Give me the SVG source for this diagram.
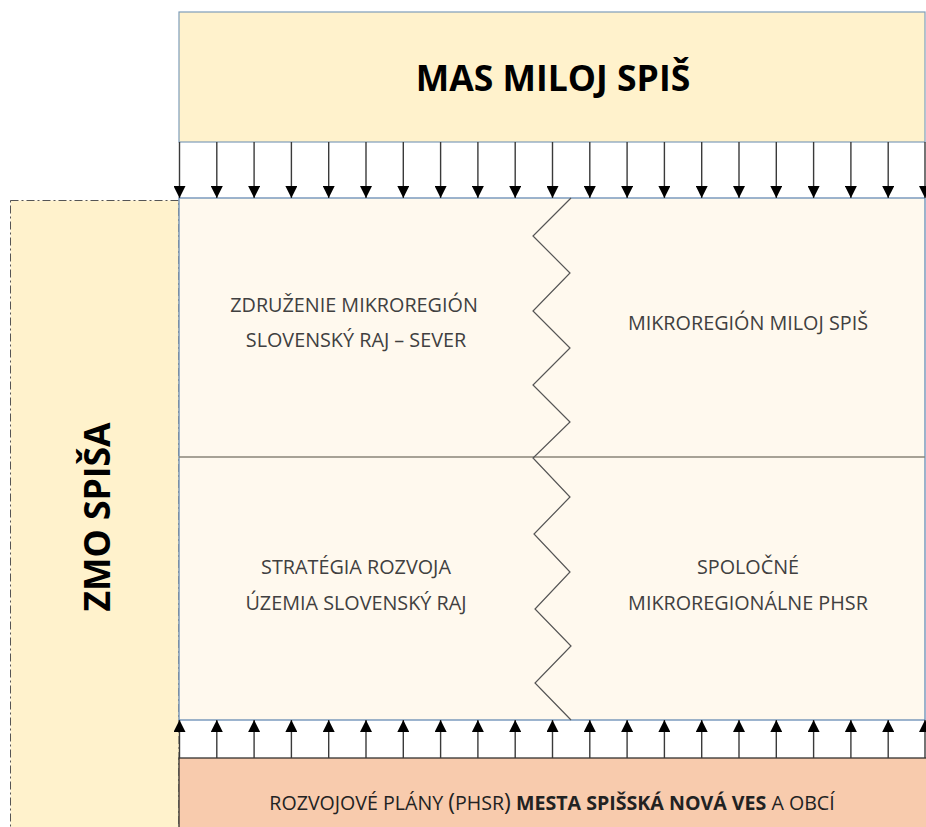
<svg xmlns="http://www.w3.org/2000/svg" width="926" height="827" viewBox="0 0 926 827">
<defs>
<marker id="ah" viewBox="0 0 10 10" refX="10" refY="5" markerWidth="12" markerHeight="12" markerUnits="userSpaceOnUse" orient="auto">
<path d="M0,0 L10,5 L0,10 Z" fill="#000"/>
</marker>
<style>
.lbl{font-family:"Open Sans","Liberation Sans",sans-serif;font-size:19.8px;fill:#404040;text-anchor:middle}
.ar{stroke:#3a3a3a;stroke-width:1.4;fill:none;marker-end:url(#ah)}
</style>
</defs>
<rect width="926" height="827" fill="#fff"/>
<g id="mas">
<rect x="179" y="12" width="746" height="130" fill="#FFF2CC" stroke="#7F9DB9" stroke-width="1.2"/>
<text x="553" y="91" font-family="'Open Sans','Liberation Sans',sans-serif" font-weight="bold" font-size="35.5" fill="#000" text-anchor="middle">MAS MILOJ SPIŠ</text>
</g>
<g id="zmo">
<rect x="10.5" y="200.5" width="168.5" height="630" fill="#FFF2CC" stroke="#555" stroke-width="1" stroke-dasharray="8,3,2,3"/>
<text transform="translate(110,517) rotate(-90)" font-family="'Open Sans','Liberation Sans',sans-serif" font-weight="bold" font-size="35.5" fill="#000" text-anchor="middle">ZMO SPIŠA</text>
</g>
<g id="main">
<rect x="179" y="198" width="746" height="522" fill="#FFF9EE" stroke="#5B82B0" stroke-width="1.2"/>
<line x1="179" y1="457" x2="925" y2="457" stroke="#8A8578" stroke-width="1.3"/>
<path d="M571,198 L533,236 L570,273 L533,311 L570,348 L533,385 L570,422 L533,458 L570,497 L534,534 L570,572 L535,609 L571,646 L535,683 L571,720" fill="none" stroke="#555" stroke-width="1.2"/>
</g>
<g id="n1"><text class="lbl" x="354" y="312">ZDRUŽENIE MIKROREGIÓN</text><text class="lbl" x="356" y="347">SLOVENSKÝ RAJ – SEVER</text></g>
<g id="n2"><text class="lbl" x="748" y="330">MIKROREGIÓN MILOJ SPIŠ</text></g>
<g id="n3"><text class="lbl" x="356" y="574">STRATÉGIA ROZVOJA</text><text class="lbl" x="356" y="610">ÚZEMIA SLOVENSKÝ RAJ</text></g>
<g id="n4"><text class="lbl" x="748" y="574">SPOLOČNÉ</text><text class="lbl" x="748" y="610">MIKROREGIONÁLNE PHSR</text></g>
<g id="bottom">
<rect x="179" y="758" width="760" height="80" fill="#F8CBAD" stroke="#222" stroke-width="1.2"/>
<text x="552" y="810" font-family="'Open Sans','Liberation Sans',sans-serif" font-size="19.6" fill="#222" text-anchor="middle">ROZVOJOVÉ PLÁNY <tspan font-size="23">(</tspan>PHSR<tspan font-size="23">)</tspan> <tspan font-weight="bold">MESTA SPIŠSKÁ NOVÁ VES</tspan> A OBCÍ</text>
</g>
<g id="connectors">
<line class="ar" x1="179.5" y1="142" x2="179.5" y2="198"/>
<line class="ar" x1="216.8" y1="142" x2="216.8" y2="198"/>
<line class="ar" x1="254.1" y1="142" x2="254.1" y2="198"/>
<line class="ar" x1="291.4" y1="142" x2="291.4" y2="198"/>
<line class="ar" x1="328.7" y1="142" x2="328.7" y2="198"/>
<line class="ar" x1="366" y1="142" x2="366" y2="198"/>
<line class="ar" x1="403.3" y1="142" x2="403.3" y2="198"/>
<line class="ar" x1="440.6" y1="142" x2="440.6" y2="198"/>
<line class="ar" x1="477.9" y1="142" x2="477.9" y2="198"/>
<line class="ar" x1="515.2" y1="142" x2="515.2" y2="198"/>
<line class="ar" x1="552.5" y1="142" x2="552.5" y2="198"/>
<line class="ar" x1="589.8" y1="142" x2="589.8" y2="198"/>
<line class="ar" x1="627.1" y1="142" x2="627.1" y2="198"/>
<line class="ar" x1="664.4" y1="142" x2="664.4" y2="198"/>
<line class="ar" x1="701.7" y1="142" x2="701.7" y2="198"/>
<line class="ar" x1="739" y1="142" x2="739" y2="198"/>
<line class="ar" x1="776.3" y1="142" x2="776.3" y2="198"/>
<line class="ar" x1="813.6" y1="142" x2="813.6" y2="198"/>
<line class="ar" x1="850.9" y1="142" x2="850.9" y2="198"/>
<line class="ar" x1="888.2" y1="142" x2="888.2" y2="198"/>
<line class="ar" x1="925" y1="142" x2="925" y2="198"/>
<line class="ar" x1="179.5" y1="758" x2="179.5" y2="720"/>
<line class="ar" x1="216.8" y1="758" x2="216.8" y2="720"/>
<line class="ar" x1="254.1" y1="758" x2="254.1" y2="720"/>
<line class="ar" x1="291.4" y1="758" x2="291.4" y2="720"/>
<line class="ar" x1="328.7" y1="758" x2="328.7" y2="720"/>
<line class="ar" x1="366" y1="758" x2="366" y2="720"/>
<line class="ar" x1="403.3" y1="758" x2="403.3" y2="720"/>
<line class="ar" x1="440.6" y1="758" x2="440.6" y2="720"/>
<line class="ar" x1="477.9" y1="758" x2="477.9" y2="720"/>
<line class="ar" x1="515.2" y1="758" x2="515.2" y2="720"/>
<line class="ar" x1="552.5" y1="758" x2="552.5" y2="720"/>
<line class="ar" x1="589.8" y1="758" x2="589.8" y2="720"/>
<line class="ar" x1="627.1" y1="758" x2="627.1" y2="720"/>
<line class="ar" x1="664.4" y1="758" x2="664.4" y2="720"/>
<line class="ar" x1="701.7" y1="758" x2="701.7" y2="720"/>
<line class="ar" x1="739" y1="758" x2="739" y2="720"/>
<line class="ar" x1="776.3" y1="758" x2="776.3" y2="720"/>
<line class="ar" x1="813.6" y1="758" x2="813.6" y2="720"/>
<line class="ar" x1="850.9" y1="758" x2="850.9" y2="720"/>
<line class="ar" x1="888.2" y1="758" x2="888.2" y2="720"/>
<line class="ar" x1="925" y1="758" x2="925" y2="720"/>
</g>
</svg>
